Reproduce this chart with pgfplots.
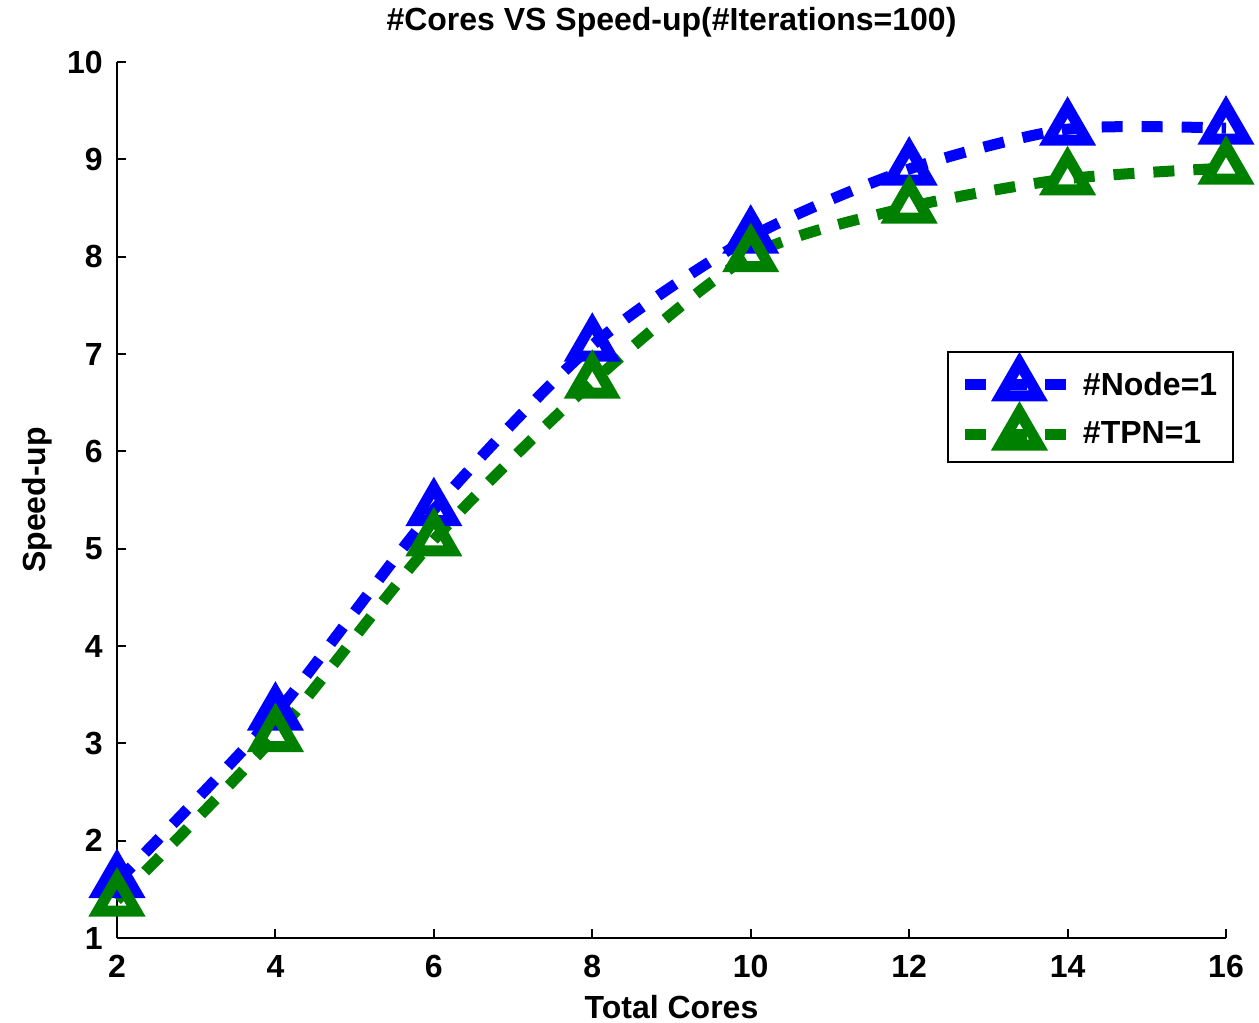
\documentclass[border=0pt]{standalone}
\usepackage{pgfplots}
\pgfplotsset{compat=1.18}
\usepackage{fontspec}
\setmainfont{Liberation Sans}

\definecolor{mblue}{RGB}{0,0,255}
\definecolor{mgreen}{RGB}{0,128,0}

\begin{document}
\begin{tikzpicture}
\useasboundingbox (-58.5pt,-42.5pt) rectangle (571pt,469pt);
\begin{axis}[
  at={(0pt,0pt)}, anchor=south west,
  scale only axis,
  width=554.5pt, height=438pt,
  xmin=2, xmax=16, ymin=1, ymax=10,
  xtick={2,4,...,16}, ytick={1,2,...,10},
  axis x line=bottom, axis y line=left,
  axis line style={-, line width=1pt},
  tick style={line width=1pt, black},
  tick align=inside,
  major tick length=4.5pt,
  clip=false,
  font=\fontsize{16}{19}\selectfont\bfseries,
  /pgf/number format/assume math mode=true,
  xticklabel style={anchor=north, inner sep=0pt, yshift=-8.5pt},
  yticklabel style={anchor=east, inner sep=0pt, xshift=-7pt},
  every axis title shift=0pt,
  title={\#Cores VS Speed-up(\#Iterations=100)},
  title style={at={(axis description cs:0.5,1.0457)}, anchor=center, inner sep=0pt},
  xlabel={Total Cores},
  xlabel style={at={(axis description cs:0.5,-0.0788)}, anchor=center, inner sep=0pt},
  ylabel={Speed-up},
  ylabel style={at={(axis description cs:-0.072,0.5)}, anchor=center, inner sep=0pt},
  legend cell align=left,
  legend image code/.code={
    \draw[#1, mark repeat=2, mark phase=2] plot coordinates {(0pt,0pt)(27pt,0pt)(54pt,0pt)};
  },
  legend style={
    at={(0.7484,0.6701)}, anchor=north west,
    draw=black, line width=1pt,
    inner xsep=6pt, inner ysep=5.5pt,
    row sep=5pt,
    font=\fontsize{16}{19}\selectfont\bfseries,
    /tikz/every even column/.append style={column sep=3pt},
  },
  every axis plot/.append style={
    line width=5.5pt, dash pattern=on 10.5pt off 9.5pt, smooth, tension=0.45,
    mark=triangle, mark size=11pt,
    mark options={solid, line join=miter},
  },
]
\addplot[color=mblue] coordinates {
  (2,1.58) (4,3.30) (6,5.40) (8,7.09) (10,8.20) (12,8.90) (14,9.31) (16,9.32)
};
\addlegendentry{\#Node=1}
\addplot[color=mgreen] coordinates {
  (2,1.39) (4,3.08) (6,5.09) (8,6.71) (10,8.01) (12,8.51) (14,8.80) (16,8.91)
};
\addlegendentry{\#TPN=1}
\end{axis}
\end{tikzpicture}
\end{document}
